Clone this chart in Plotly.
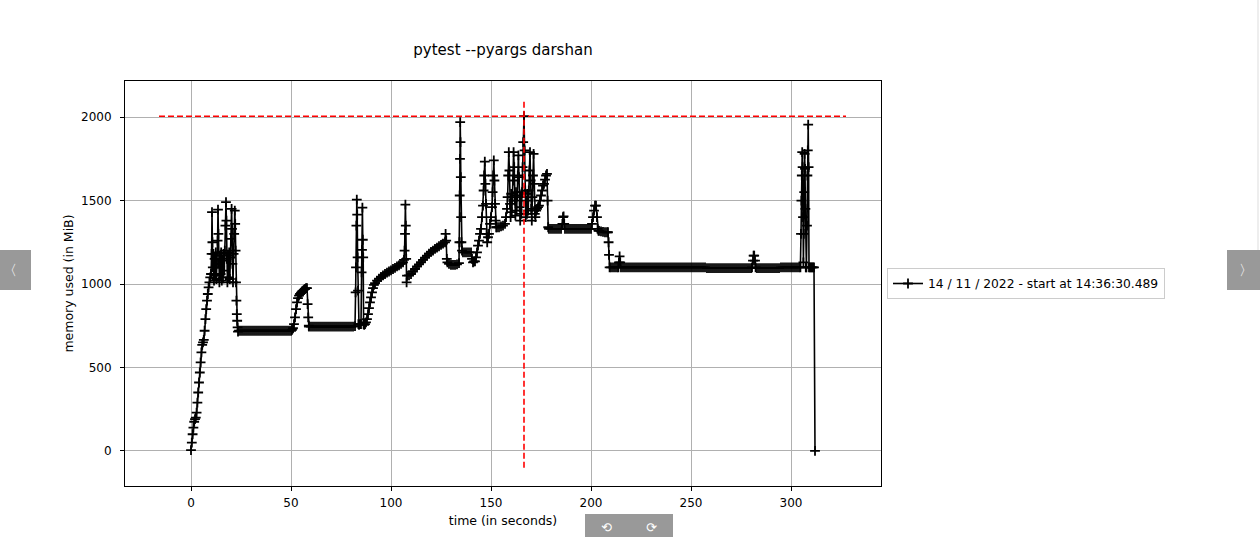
import plotly.graph_objects as go

# ---------------- data (time in s, memory in MiB) ----------------
startup = [(0.0, 5), (0.4, 50), (0.8, 100), (1.2, 140), (1.6, 175), (2.0, 190), (2.4, 200), (2.8, 230),
           (3.2, 290), (3.6, 350), (4.0, 410), (4.4, 470), (4.8, 530), (5.2, 590), (5.6, 635), (6.0, 650),
           (6.4, 665), (6.8, 720), (7.2, 790), (7.6, 850), (8.0, 900), (8.4, 940), (8.8, 980), (9.2, 1010),
           (9.6, 1040), (10.0, 1060)]

first_spikes = [(10.3, 1180), (10.5, 1430), (10.7, 1250), (10.9, 1100), (11.2, 1180), (11.5, 1020), (11.8, 1150),
                (12.1, 1050), (12.4, 1190), (12.7, 1030), (13.0, 1120), (13.3, 1260), (13.5, 1445), (13.7, 1300),
                (13.9, 1120), (14.2, 1010), (14.5, 1170), (14.8, 1060), (15.1, 1190), (15.4, 1020), (15.7, 1140),
                (16.0, 1040), (16.3, 1180), (16.6, 1080), (16.9, 1200), (17.2, 1350), (17.5, 1490), (17.7, 1380),
                (17.9, 1150), (18.2, 1010), (18.5, 1170), (18.8, 1040), (19.1, 1190), (19.4, 1030), (19.7, 1160),
                (20.0, 1270), (20.3, 1450), (20.5, 1330), (20.7, 1120), (21.0, 1010), (21.3, 1180), (21.6, 1300),
                (21.9, 1440), (22.1, 1360), (22.3, 1200), (22.5, 1010), (22.7, 900), (22.9, 820), (23.1, 780),
                (23.3, 740), (23.5, 715)]

plateau_720 = [(24, 720), (25, 720), (26, 720), (27, 720), (28, 720), (29, 720), (30, 720), (31, 720), (32, 720),
               (33, 720), (34, 720), (35, 720), (36, 720), (37, 720), (38, 720), (39, 720), (40, 720), (41, 720),
               (42, 720), (43, 720), (44, 720), (45, 720), (46, 720), (47, 720), (48, 720), (49, 720), (50, 720)]

bump_55 = [(50.5, 725), (51, 735), (51.5, 760), (52, 800), (52.5, 850), (53, 890), (53.5, 915), (54, 930),
           (54.5, 940), (55, 948), (55.5, 955), (56, 960), (56.5, 966), (57, 970), (57.5, 975), (58, 975),
           (58.3, 880), (58.6, 800), (58.9, 750)]

plateau_745 = [(59, 745), (60, 745), (61, 745), (62, 745), (63, 745), (64, 745), (65, 745), (66, 745), (67, 745),
               (68, 745), (69, 745), (70, 745), (71, 745), (72, 745), (73, 745), (74, 745), (75, 745), (76, 745),
               (77, 745), (78, 745), (79, 745), (80, 745), (81, 745)]

climb_82_134 = [(82, 748), (82.3, 950), (82.5, 1100), (82.7, 1350), (82.9, 1505), (83.1, 1415), (83.3, 1160),
                (83.5, 960), (83.7, 760), (84, 755), (84.5, 760), (85, 760), (85.3, 1070), (85.5, 1205),
                (85.7, 1457), (85.9, 1265), (86.1, 1160), (86.3, 760), (86.6, 755), (87, 760), (87.5, 770),
                (88, 790), (88.5, 820), (89, 855), (89.5, 890), (90, 920), (90.5, 950), (91, 975), (91.5, 995),
                (92, 1005), (93, 1020), (94, 1032), (95, 1042), (96, 1052), (97, 1060), (98, 1068), (99, 1075),
                (100, 1082), (101, 1090), (102, 1097), (103, 1105), (104, 1112), (105, 1120), (106, 1130),
                (106.5, 1145), (106.8, 1200), (107, 1300), (107.2, 1475), (107.4, 1350), (107.6, 1150),
                (107.8, 1010), (108, 1050), (109, 1052), (110, 1060), (111, 1075), (112, 1090), (113, 1105),
                (114, 1118), (115, 1130), (116, 1145), (117, 1158), (118, 1170), (119, 1182), (120, 1192),
                (121, 1200), (122, 1210), (123, 1218), (124, 1226), (125, 1234), (126, 1242), (127, 1250),
                (127.3, 1300), (127.6, 1260), (127.9, 1150), (128.2, 1130), (129, 1120), (130, 1115),
                (131, 1115), (132, 1115), (133, 1118), (134, 1125)]

peak_region = [(134.2, 1250), (134.35, 1530), (134.5, 1750), (134.6, 1970), (134.75, 1850), (134.9, 1640),
               (135.05, 1400), (135.2, 1250), (135.5, 1200), (136, 1190), (137, 1190), (138, 1190), (139, 1190),
               (140, 1190), (140.5, 1150), (141, 1130), (141.5, 1135), (142, 1135), (142.5, 1160), (143, 1190),
               (143.5, 1230), (144, 1260), (144.5, 1300), (145, 1330), (145.5, 1400), (146, 1470), (146.3, 1560),
               (146.6, 1650), (146.9, 1733), (147.2, 1600), (147.5, 1480), (147.8, 1300), (148.1, 1250),
               (148.5, 1280), (149, 1300), (149.5, 1360), (150, 1400), (150.5, 1460), (150.8, 1550),
               (151.1, 1650), (151.4, 1740), (151.7, 1620), (152, 1480), (152.3, 1380), (152.6, 1340),
               (153, 1340), (154, 1340), (155, 1345), (156, 1350), (157, 1360), (157.5, 1400),
               (158, 1450), (158.3, 1520), (158.6, 1650), (158.9, 1790), (159.2, 1680), (159.5, 1480),
               (159.8, 1400), (160.1, 1540), (160.4, 1430), (160.7, 1520), (161, 1620), (161.3, 1790),
               (161.6, 1700), (161.9, 1500), (162.2, 1410), (162.5, 1550), (162.8, 1440), (163.1, 1530),
               (163.4, 1650), (163.7, 1770), (164, 1640), (164.3, 1460), (164.6, 1380), (164.9, 1520),
               (165.2, 1420), (165.5, 1550), (165.8, 1700), (166.1, 1850), (166.5, 2005), (166.8, 1800),
               (167.1, 1560), (167.4, 1400), (167.7, 1500), (168, 1420), (168.3, 1540), (168.6, 1440),
               (168.9, 1560), (169.2, 1680), (169.5, 1790), (169.8, 1620), (170.1, 1450), (170.4, 1380),
               (170.7, 1520), (171, 1650), (171.3, 1780), (171.6, 1600), (171.9, 1420), (172.2, 1400),
               (172.6, 1440), (173, 1450), (173.5, 1460), (174, 1470), (174.5, 1500), (175, 1530),
               (175.5, 1560), (176, 1590), (176.5, 1600), (177, 1625), (177.5, 1650), (178, 1660),
               (178.3, 1500), (178.6, 1340)]

plateau_1330 = [(179, 1330), (180, 1330), (181, 1330), (182, 1330), (183, 1330), (184, 1330), (185, 1330),
                (185.7, 1360), (186, 1400), (186.3, 1405), (186.6, 1360), (187, 1330), (188, 1330), (189, 1330),
                (190, 1330), (191, 1330), (192, 1330), (193, 1330), (194, 1330), (195, 1330), (196, 1330),
                (197, 1330), (198, 1330), (199, 1330), (200, 1330), (200.5, 1360), (201, 1400), (201.5, 1440),
                (202, 1470), (202.5, 1470), (203, 1400), (203.3, 1330), (203.7, 1320), (204, 1318), (205, 1315),
                (206, 1312), (207, 1310), (208, 1310), (208.5, 1310), (208.8, 1250), (209, 1175), (209.3, 1100)]

plateau_1100 = [(210, 1100), (211, 1100), (212, 1100), (213, 1100), (213.7, 1100), (214, 1130), (214.3, 1165),
                (214.6, 1130), (215, 1100), (216, 1100), (217, 1100), (218, 1100), (219, 1100), (220, 1100),
                (221, 1100), (222, 1100), (223, 1100), (224, 1100), (225, 1100), (226, 1100), (227, 1100),
                (228, 1100), (229, 1100), (230, 1100), (231, 1100), (232, 1100), (233, 1100), (234, 1100),
                (235, 1100), (236, 1100), (237, 1100), (238, 1100), (239, 1100), (240, 1100), (241, 1100),
                (242, 1100), (243, 1100), (244, 1100), (245, 1100), (246, 1100), (247, 1100), (248, 1100),
                (249, 1100), (250, 1100), (251, 1100), (252, 1100), (253, 1100), (254, 1100), (255, 1100),
                (256, 1100), (257, 1100), (258, 1095), (259, 1095), (260, 1095), (261, 1095), (262, 1095),
                (263, 1095), (264, 1095), (265, 1095), (266, 1095), (267, 1095), (268, 1095), (269, 1095),
                (270, 1095), (271, 1095), (272, 1095), (273, 1095), (274, 1095), (275, 1095), (276, 1095),
                (277, 1095), (278, 1095), (279, 1095), (280, 1095), (280.5, 1100), (281, 1140), (281.3, 1170),
                (281.6, 1170), (282, 1140), (282.3, 1100), (283, 1095), (284, 1095), (285, 1095), (286, 1095),
                (287, 1095), (288, 1095), (289, 1095), (290, 1095), (291, 1095), (292, 1095), (293, 1095),
                (294, 1095), (295, 1100), (296, 1100), (297, 1100), (298, 1100), (299, 1100), (300, 1100),
                (301, 1100), (302, 1100), (303, 1100), (304, 1100)]

final_spikes = [(304.7, 1100), (305, 1300), (305.2, 1500), (305.4, 1650), (305.6, 1790), (305.8, 1700),
                (306, 1400), (306.2, 1130), (306.4, 1300), (306.6, 1550), (306.8, 1780), (307, 1690),
                (307.2, 1450), (307.4, 1100), (307.7, 1100), (308, 1350), (308.2, 1650), (308.4, 1800),
                (308.6, 1955), (308.8, 1700), (309, 1100), (309.5, 1100), (310, 1100), (310.5, 1100),
                (311, 1100), (311.5, 1100), (312, 0)]

segments = [startup, first_spikes, plateau_720, bump_55, plateau_745, climb_82_134,
            peak_region, plateau_1330, plateau_1100, final_spikes]

max_mem = 2005
max_time = 166.5
hline_x = [-16, 327.5]
vline_y = [-100, 2100]

x_ticks = [0, 50, 100, 150, 200, 250, 300]
y_ticks = [0, 500, 1000, 1500, 2000]

title_text = "pytest --pyargs darshan"
series_name = "14 / 11 / 2022 - start at 14:36:30.489"
x_title = "time (in seconds)"
y_title = "memory used (in MiB)"

# ---------------- figure ----------------
t_vals = [p[0] for seg in segments for p in seg]
m_vals = [p[1] for seg in segments for p in seg]

FONT = "DejaVu Sans"
W, H = 1260, 537
L, R, T, B = 125, 881, 81, 486  # plot area in pixels


def px(x):
    return (x - L) / (R - L)


def py(y):
    return (B - y) / (B - T)


fig = go.Figure()
fig.add_trace(go.Scatter(
    x=t_vals, y=m_vals, mode="lines+markers", name=series_name,
    line=dict(color="black", width=1.6),
    marker=dict(symbol="cross-thin", size=7, color="black", line=dict(color="black", width=1.8)),
))
fig.add_trace(go.Scatter(
    x=hline_x, y=[max_mem, max_mem], mode="lines", showlegend=False,
    line=dict(color="red", width=1.6, dash="6px,3px"),
))
fig.add_trace(go.Scatter(
    x=[max_time, max_time], y=vline_y, mode="lines", showlegend=False,
    line=dict(color="red", width=1.6, dash="6px,3px"),
))

axis_common = dict(
    showline=True, linecolor="black", linewidth=1, mirror=True,
    ticks="outside", ticklen=4, tickwidth=1, tickcolor="black",
    showgrid=True, gridcolor="#b0b0b0", gridwidth=0.9,
    zeroline=False, tickfont=dict(family=FONT, size=12, color="black"),
)

fig.update_layout(
    width=W, height=H,
    margin=dict(l=L, r=W - R, t=T, b=H - B),
    paper_bgcolor="white", plot_bgcolor="white",
    font=dict(family=FONT, color="black", size=12),
    title=dict(text=title_text, x=(L + R) / 2 / W, xanchor="center", y=1 - 50 / H, yanchor="middle",
               font=dict(family=FONT, size=15, color="black")),
    xaxis=dict(range=[-33, 345], tickvals=x_ticks, ticklabelstandoff=2,
               title=dict(text=x_title, font=dict(family=FONT, size=12.5), standoff=6), **axis_common),
    yaxis=dict(range=[-210, 2216], tickvals=y_ticks, ticklabelstandoff=6,
               title=dict(text=y_title, font=dict(family=FONT, size=12.5), standoff=4), **axis_common),
    legend=dict(x=px(887), y=0.5, xanchor="left", yanchor="middle",
                bordercolor="#cccccc", borderwidth=1, bgcolor="white", itemwidth=30,
                font=dict(family=FONT, size=12.3, color="black")),
    showlegend=True,
)

# viewer chrome (grey navigation buttons around the image)
grey = "#999999"
for x0, x1, y0, y1 in [(0, 31, 250, 290), (1227, 1262, 250, 290), (585, 673, 514, 545)]:
    fig.add_shape(type="rect", xref="paper", yref="paper", x0=px(x0), x1=px(x1), y0=py(y1), y1=py(y0),
                  fillcolor=grey, line=dict(width=0), layer="above")
fig.add_shape(type="line", xref="paper", yref="paper", x0=px(1258), x1=px(1258), y0=py(250), y1=py(0),
              line=dict(color="#dddddd", width=1))
for txt, x, y, sz in [("〈", 10, 270, 14), ("〉", 1246, 270, 14), ("⟲", 606, 527, 13), ("⟳", 651, 527, 13)]:
    fig.add_annotation(text=txt, xref="paper", yref="paper", x=px(x), y=py(y), showarrow=False,
                       xanchor="center", yanchor="middle", font=dict(color="white", size=sz, family=FONT))

fig.write_html("out.html", config={"displayModeBar": False},
               post_script="document.body.style.margin='0px';")
